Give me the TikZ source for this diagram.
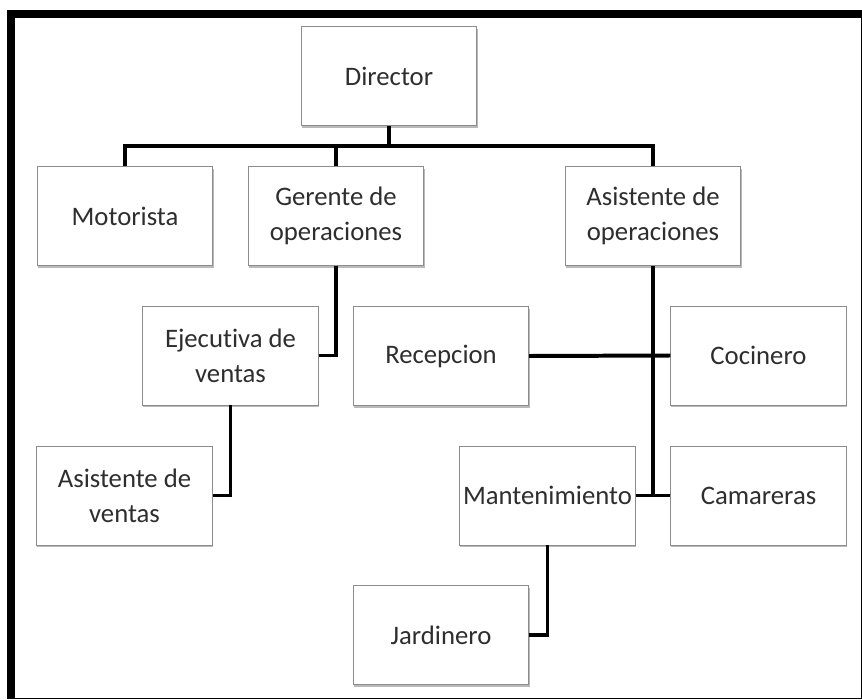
\documentclass[tikz,border=0pt]{standalone}
\usepackage{fontspec}
\setmainfont{Carlito}[Ligatures=NoCommon]
\usepackage{tikz}
\usetikzlibrary{positioning,shadows}

\begin{document}
\begin{tikzpicture}[
x=0.03cm, y=-0.03cm,
MyBoxes/.style={draw=black!45,fill=white,line width=0.6pt,
  minimum width=5.27cm,minimum height=2.97cm,inner sep=0pt,
  align=center,text=black!82,font=\fontsize{22.8}{30}\selectfont,
  drop shadow={shadow xshift=0.6pt,shadow yshift=-1.8pt,fill=black!60,opacity=0.45}},
Segments/.style={draw=black,line width=3.4pt},
every node/.style={scale=1}
]
\useasboundingbox (0,0) rectangle (862,700);

% frame
\draw[black,line width=0.8pt] (11,698) -- (861,698) -- (861,14);
\draw[black,line width=6.8pt] (11,699) -- (11,14) -- (862,14);

% boxes
\node[MyBoxes] (dir) at (389,76) {Director};
\node[MyBoxes] (mot) at (125,216) {Motorista};
\node[MyBoxes] (ger) at (336,216) {Gerente de\\operaciones};
\node[MyBoxes] (ops) at (653,216) {Asistente de\\operaciones};
\node[MyBoxes] (eje) at (230.5,355.5) {Ejecutiva de\\ventas};
\node[MyBoxes] (rec) at (441,356) {Recepcion};
\node[MyBoxes] (coc) at (758.5,355.5) {Cocinero};
\node[MyBoxes] (asv) at (124.5,495.5) {Asistente de\\ventas};
\node[MyBoxes] (man) at (547.5,495.5) {Mantenimiento};
\node[MyBoxes] (cam) at (758.5,495.5) {Camareras};
\node[MyBoxes] (jar) at (441,635) {Jardinero};

% connectors
\coordinate (bus) at (0,146);
\draw[Segments] (dir.south) -- (dir.south |- bus);
\draw[Segments] (mot.north) -- (mot.north |- bus) -- (ops.north |- bus) -- (ops.north);
\draw[Segments] (ger.north) -- (ger.north |- bus);

\draw[Segments] (ger.south) |- (eje.east);
\draw[Segments] (eje.south) |- (asv.east);

\draw[Segments] (rec.east) -- (coc.west);
\draw[Segments] (ops.south) |- (man.east);
\draw[Segments] (man.east) -- (cam.west);
\draw[Segments] (man.south) |- (jar.east);

\end{tikzpicture}
\end{document}
